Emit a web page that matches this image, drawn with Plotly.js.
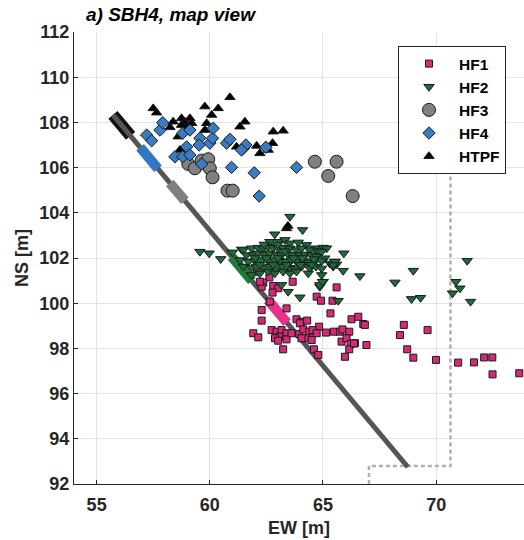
<!DOCTYPE html>
<html>
<head>
<meta charset="utf-8">
<script src="https://cdn.plot.ly/plotly-3.0.1.min.js"></script>
<style>
  html, body { margin: 0; padding: 0; background: #ffffff; }
  #chart { width: 524px; height: 540px; }
</style>
</head>
<body>
<div id="chart"></div>
<script>
// Hydraulic fracture event locations, SBH4 map view (EW / NS in metres)
const hf1EW = [62.63,62.36,62.29,62.80,63.02,62.77,63.66,62.65,62.29,63.39,62.29,63.83,64.05,64.30,63.98,64.72,64.91,65.42,65.60,65.33,
  64.83,65.13,65.48,65.75,65.86,66.16,66.26,66.56,66.78,66.85,61.92,62.14,62.73,62.95,63.17,63.39,63.07,62.88,63.02,63.39,
  63.24,63.61,63.95,64.13,64.39,64.54,64.72,64.25,64.50,64.60,64.79,64.05,65.82,66.04,66.22,66.16,66.41,66.92,65.97,62.09,
  62.21,68.57,68.40,69.62,68.72,68.99,69.99,70.97,71.67,72.12,72.48,72.49,73.67,66.37];
const hf1NS = [101.14,100.91,100.73,100.76,100.66,100.47,100.95,100.07,99.70,99.77,99.23,99.29,99.18,99.23,99.11,100.29,100.11,100.11,100.70,99.55,
  98.96,98.70,98.74,98.74,98.84,98.74,99.29,99.40,99.08,99.04,98.67,98.49,98.81,98.74,98.81,98.67,98.52,98.45,98.34,98.40,
  97.96,98.67,98.64,98.84,98.74,98.81,98.67,98.45,98.37,97.96,97.71,98.45,98.30,98.45,98.20,97.96,98.23,98.15,97.63,101.39,
  100.95,99.04,98.59,98.81,97.96,97.59,97.49,97.37,97.38,97.60,97.60,96.85,96.90,98.22];

const hf2EW = [59.56,59.97,60.48,61.00,61.40,63.54,64.10,62.87,
  62.65,63.07,63.32,63.54,63.91,64.27,64.64,65.01,65.16,
  61.48,61.84,62.14,62.36,62.58,62.80,63.02,63.24,63.54,63.83,64.05,64.42,64.79,64.94,
  61.62,61.92,62.14,62.43,62.65,62.95,63.17,63.46,63.68,63.98,64.20,64.49,64.71,65.08,65.52,65.60,
  61.33,61.70,61.99,62.29,62.58,62.87,63.10,63.39,63.61,63.83,64.13,64.35,64.64,64.94,65.30,
  61.48,61.84,62.06,62.36,62.65,62.92,63.21,63.54,63.76,64.05,64.42,64.69,64.94,65.45,
  61.84,62.21,62.58,62.87,63.24,63.54,63.83,64.35,64.94,
  65.01,64.86,
  62.00,62.50,63.00,63.30,63.70,64.10,62.20,62.80,63.40,64.00,64.50,63.00,62.40,64.60,
  63.17,63.46,63.98,64.86,64.98,65.67,66.63,
  65.92,65.53,65.45,65.89,68.18,68.99,68.91,69.31,71.37,70.87,71.05,70.72,71.52];
const hf2NS = [102.28,102.21,101.96,102.25,102.38,103.83,103.24,103.05,
  102.72,102.72,102.80,102.65,102.69,102.58,102.43,102.46,102.43,
  102.35,102.43,102.46,102.43,102.50,102.46,102.43,102.46,102.43,102.35,102.43,102.35,102.31,102.28,
  102.13,102.13,102.21,102.16,102.21,102.16,102.13,102.16,102.13,102.13,102.16,102.13,102.06,101.99,101.84,101.72,
  101.91,101.84,101.87,101.91,101.87,101.91,101.87,101.84,101.91,101.84,101.87,101.81,101.84,101.87,101.76,
  101.62,101.57,101.62,101.57,101.62,101.54,101.62,101.57,101.51,101.62,101.54,101.62,101.54,101.62,
  101.25,101.32,101.40,101.32,101.40,101.32,101.40,101.32,101.25,
  100.95,100.73,
  102.00,102.00,102.00,102.30,102.00,102.00,101.70,101.70,101.70,101.70,101.70,102.60,102.60,101.95,
  100.81,100.51,100.26,100.81,100.95,100.11,101.20,
  102.21,101.84,101.69,101.44,100.92,101.44,100.19,100.24,101.88,100.95,100.66,100.44,100.07];

const hf3EW = [59.05,59.34,59.64,59.93,60.00,60.12,60.78,61.01,64.64,65.60,65.23,66.31];
const hf3NS = [106.16,105.97,106.31,106.37,105.97,105.57,104.98,104.98,106.26,106.26,105.63,104.74];

const hf4EW = [57.21,57.43,57.80,57.92,58.80,59.12,59.56,59.53,60.00,60.12,60.15,58.98,58.46,
  58.80,59.12,59.64,60.74,60.89,61.48,61.59,61.40,60.96,61.96,62.48,62.18,63.83];
const hf4NS = [107.44,107.19,107.66,107.99,107.52,107.66,107.30,107.00,107.08,107.30,107.74,106.92,106.48,
  106.48,106.56,106.16,107.08,107.25,106.85,107.00,106.78,106.01,105.77,106.90,104.74,106.01];

const htpfEW = [57.50,57.65,58.38,58.24,58.75,58.90,59.12,59.20,58.75,58.98,58.60,59.78,60.37,60.89,
  60.08,59.86,59.78,61.55,61.33,62.80,63.24,61.18,62.07,62.77,62.58,62.21,58.68,63.39,63.45];
const htpfNS = [108.62,108.43,108.03,107.78,108.18,108.03,108.18,107.96,107.88,107.81,107.37,108.70,108.62,109.11,
  108.33,107.96,107.66,108.03,107.81,107.59,107.63,106.92,106.96,107.08,106.78,106.63,106.78,103.31,103.42];

// Borehole trace and its stimulation intervals
const wellEW = [55.72, 68.75];
const wellNS = [108.33, 92.75];
const intervalNames = ['HTPF', 'HF4', 'HF3', 'HF2', 'HF1'];
const intervalEW = [[55.72, 56.50], [56.92, 57.71], [58.23, 58.90], [60.97, 61.86], [62.56, 63.41]];
const intervalNS = [[108.33, 107.40], [106.90, 105.95], [105.32, 104.53], [102.05, 100.99], [100.15, 99.14]];

// Gallery outline (dashed)
const galleryEW = [67.03, 67.03, 70.63, 70.63];
const galleryNS = [92.0, 92.8, 92.8, 106.2];

const intervalColors = {HTPF: '#111111', HF4: '#2f78c4', HF3: '#808080', HF2: '#1f7a3a', HF1: '#e6308a'};
const FONT = 'Liberation Sans, Arial, sans-serif';
const edge = {color: '#1a1a1a', width: 1};

const traces = [];

traces.push({x: galleryEW, y: galleryNS, mode: 'lines', showlegend: false, hoverinfo: 'skip',
  line: {color: '#b0b0b0', width: 2.5, dash: '4px,3px'}});

// black HTPF interval sits under the borehole line
traces.push({x: intervalEW[0], y: intervalNS[0], mode: 'lines', showlegend: false, hoverinfo: 'skip',
  line: {color: intervalColors.HTPF, width: 12}});

traces.push({x: wellEW, y: wellNS, mode: 'lines', showlegend: false, hoverinfo: 'skip',
  line: {color: '#555555', width: 5}});

for (let i = 1; i < intervalNames.length; i++) {
  traces.push({x: intervalEW[i], y: intervalNS[i], mode: 'lines', showlegend: false, hoverinfo: 'skip',
    line: {color: intervalColors[intervalNames[i]], width: 10}});
}

traces.push({x: hf1EW, y: hf1NS, mode: 'markers', name: 'HF1', legendrank: 1,
  marker: {symbol: 'square', size: 7, color: '#d62a78', line: edge}});
traces.push({x: hf2EW, y: hf2NS, mode: 'markers', name: 'HF2', legendrank: 2,
  marker: {symbol: 'triangle-down', size: 9, color: '#1d6b3b', line: edge}});
traces.push({x: hf3EW, y: hf3NS, mode: 'markers', name: 'HF3', legendrank: 3,
  marker: {symbol: 'circle', size: 13, color: '#808080', line: edge}});
traces.push({x: htpfEW, y: htpfNS, mode: 'markers', name: 'HTPF', legendrank: 5,
  marker: {symbol: 'triangle-up', size: 9, color: '#000000', line: edge}});
traces.push({x: hf4EW, y: hf4NS, mode: 'markers', name: 'HF4', legendrank: 4,
  marker: {symbol: 'diamond', size: 9.5, color: '#3a7cc4', line: edge}});

const axisCommon = {
  showline: true, linecolor: '#262626', linewidth: 1, mirror: false,
  ticks: 'inside', ticklen: 4, tickcolor: '#262626',
  showgrid: true, gridcolor: '#e3e3e3', gridwidth: 1, zeroline: false,
  tickfont: {family: FONT, size: 18, color: '#262626', weight: 'bold'}
};

const layout = {
  width: 524, height: 540,
  margin: {l: 74, r: 0, t: 32, b: 56},
  paper_bgcolor: '#ffffff', plot_bgcolor: '#ffffff',
  font: {family: FONT},
  title: {text: '<b><i>a) SBH4, map view</i></b>', font: {family: FONT, size: 19, color: '#000000'},
    xref: 'container', x: 86 / 524, xanchor: 'left', yref: 'container', y: 1 - 14 / 540, yanchor: 'middle'},
  xaxis: Object.assign({}, axisCommon, {range: [54, 73.88], dtick: 5, tick0: 55, ticklabelstandoff: 4,
    title: {text: '<b>EW [m]</b>', font: {family: FONT, size: 18, color: '#262626'}, standoff: 7}}),
  yaxis: Object.assign({}, axisCommon, {range: [92, 112], dtick: 2, tick0: 92,
    title: {text: '<b>NS [m]</b>', font: {family: FONT, size: 18, color: '#262626'}, standoff: 6}}),
  showlegend: true,
  legend: {x: 0.72, y: 0.969, xanchor: 'left', yanchor: 'top',
    bgcolor: '#ffffff', bordercolor: '#262626', borderwidth: 1,
    font: {family: FONT, size: 15.5, color: '#000000', weight: 'bold'},
    itemwidth: 50, tracegroupgap: 0}
};

Plotly.newPlot('chart', traces, layout, {displayModeBar: false, staticPlot: true});
</script>
</body>
</html>
